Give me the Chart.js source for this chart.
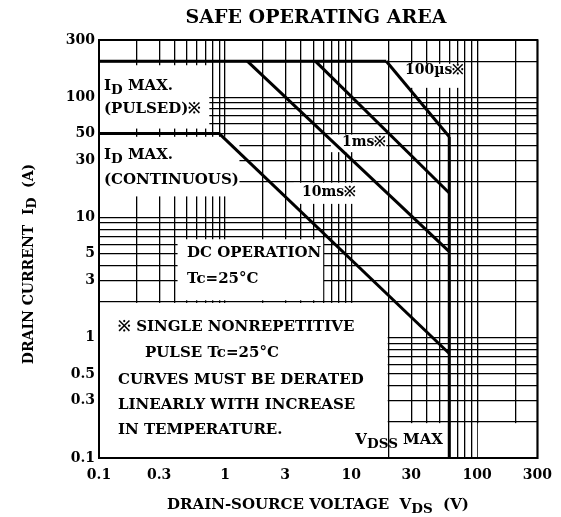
<!DOCTYPE html>
<html>
<head>
<meta charset="utf-8">
<script src="https://cdn.jsdelivr.net/npm/chart.js@4.4.0/dist/chart.umd.min.js"></script>
<style>
  html, body { margin: 0; padding: 0; background: #fff; }
</style>
</head>
<body>
<canvas id="soa" width="561" height="517"></canvas>
<script>
// tick labels shown on the axes
const xTickLabels = [0.1, 0.3, 1, 3, 10, 30, 100, 300];
const yTickLabels = [0.1, 0.3, 0.5, 1, 3, 5, 10, 30, 50, 100, 300];

// grid lines (1..9 per decade)
const xGrid = [0.1, 0.2, 0.3, 0.4, 0.5, 0.6, 0.7, 0.8, 0.9, 1, 2, 3, 4, 5, 6, 7, 8, 9,
  10, 20, 30, 40, 50, 60, 70, 80, 90, 100, 200, 300];
const yGrid = xGrid;

// limit lines, [V, A]
const pulsedMax = [[0.1, 200], [19, 200]];
const contMax = [[0.1, 50], [0.9, 50]];
const dcLine = [[0.9, 50], [60, 0.74]];
const ms10 = [[1.5, 200], [60, 5.2]];
const ms1 = [[5.2, 200], [60, 16]];
const us100 = [[19, 200], [60, 47]];
const vdssMax = [[60, 47], [60, 0.1]];

const FONT = '"DejaVu Serif", "Liberation Serif", serif';

function lineSet(pts) {
  return {
    data: pts.map(p => ({ x: p[0], y: p[1] })),
    borderColor: '#000',
    borderWidth: 3,
    pointRadius: 0,
    fill: false,
    tension: 0
  };
}

// white areas behind the printed notes, in data units [x0, x1, y0, y1]
const masks = [
  [0.1, 0.75, 55, 185],
  [0.1, 1.3, 15, 47],
  [0.42, 6.0, 2.05, 6.6],
  [0.1, 19.5, 0.1, 1.95],
  [20.5, 59, 0.1, 0.195],
  [101, 300, 0.1, 0.195],
  [25, 75, 120, 190],
  [6.9, 19, 35, 49],
  [3.5, 11, 13, 19.5]
];

function rich(ctx, parts, x, y, size, align) {
  let w = 0;
  parts.forEach(p => {
    ctx.font = 'bold ' + (p.sub ? size * 0.9 : size) + 'px ' + FONT;
    w += ctx.measureText(p.t).width;
  });
  let cx = align === 'center' ? x - w / 2 : (align === 'right' ? x - w : x);
  ctx.textAlign = 'left';
  ctx.textBaseline = 'middle';
  parts.forEach(p => {
    ctx.font = 'bold ' + (p.sub ? size * 0.9 : size) + 'px ' + FONT;
    ctx.fillText(p.t, cx, y + (p.sub ? size * 0.3 : 0));
    cx += ctx.measureText(p.t).width;
  });
}

const notes = [
  { parts: [{ t: 'SAFE OPERATING AREA' }], x: 316, y: 18, size: 19, align: 'center' },
  { parts: [{ t: 'I' }, { t: 'D', sub: true }, { t: ' MAX.' }], x: 104, y: 86, size: 15 },
  { parts: [{ t: '(PULSED)※' }], x: 104, y: 109, size: 15 },
  { parts: [{ t: 'I' }, { t: 'D', sub: true }, { t: ' MAX.' }], x: 104, y: 155, size: 15 },
  { parts: [{ t: '(CONTINUOUS)' }], x: 104, y: 180, size: 15 },
  { parts: [{ t: 'DC OPERATION' }], x: 187, y: 253, size: 15 },
  { parts: [{ t: 'Tc=25°C' }], x: 187, y: 279, size: 15 },
  { parts: [{ t: '※ SINGLE NONREPETITIVE' }], x: 118, y: 327, size: 15 },
  { parts: [{ t: 'PULSE Tc=25°C' }], x: 145, y: 353, size: 15 },
  { parts: [{ t: 'CURVES MUST BE DERATED' }], x: 118, y: 380, size: 15 },
  { parts: [{ t: 'LINEARLY WITH INCREASE' }], x: 118, y: 405, size: 15 },
  { parts: [{ t: 'IN TEMPERATURE.' }], x: 118, y: 430, size: 15 },
  { parts: [{ t: 'V' }, { t: 'DSS', sub: true }, { t: ' MAX' }], x: 443, y: 440, size: 15, align: 'right' },
  { parts: [{ t: '100µs※' }], x: 405, y: 70, size: 14 },
  { parts: [{ t: '1ms※' }], x: 342, y: 142, size: 14 },
  { parts: [{ t: '10ms※' }], x: 302, y: 192, size: 14 },
  { parts: [{ t: 'DRAIN-SOURCE VOLTAGE  V' }, { t: 'DS', sub: true }, { t: '  (V)' }], x: 318, y: 505, size: 15, align: 'center' }
];

const soaPlugin = {
  id: 'soa',
  beforeDatasetsDraw(chart) {
    const ctx = chart.ctx, sx = chart.scales.x, sy = chart.scales.y;
    ctx.save();
    ctx.fillStyle = '#fff';
    masks.forEach(m => {
      const x0 = sx.getPixelForValue(m[0]), x1 = sx.getPixelForValue(m[1]);
      const y0 = sy.getPixelForValue(m[2]), y1 = sy.getPixelForValue(m[3]);
      ctx.fillRect(x0, y1, x1 - x0, y0 - y1);
    });
    ctx.restore();
  },
  afterDatasetsDraw(chart) {
    const ctx = chart.ctx, a = chart.chartArea;
    ctx.save();
    ctx.strokeStyle = '#000';
    ctx.lineWidth = 2;
    ctx.strokeRect(a.left, a.top, a.right - a.left, a.bottom - a.top);
    ctx.restore();
  },
  afterDraw(chart) {
    const ctx = chart.ctx;
    ctx.save();
    ctx.fillStyle = '#000';
    notes.forEach(n => rich(ctx, n.parts, n.x, n.y, n.size, n.align));
    // y axis title, rotated
    ctx.translate(29, 264);
    ctx.rotate(-Math.PI / 2);
    rich(ctx, [{ t: 'DRAIN CURRENT  I' }, { t: 'D', sub: true }, { t: '  (A)' }], 0, 0, 14, 'center');
    ctx.restore();
  }
};

new Chart(document.getElementById('soa'), {
  type: 'line',
  data: {
    datasets: [pulsedMax, contMax, dcLine, ms10, ms1, us100, vdssMax].map(lineSet)
  },
  options: {
    responsive: false,
    animation: false,
    layout: { padding: { top: 40, right: 21, left: 0, bottom: 0 } },
    plugins: { legend: { display: false }, tooltip: { enabled: false } },
    scales: {
      x: {
        type: 'logarithmic',
        min: 0.1,
        max: 300,
        afterBuildTicks: s => { s.ticks = xGrid.map(v => ({ value: v })); },
        afterFit: s => { s.height = 59; },
        grid: { color: '#000', lineWidth: 1.3, drawTicks: false },
        border: { color: '#000', width: 2 },
        ticks: {
          autoSkip: false,
          maxRotation: 0,
          padding: 9,
          color: '#000',
          font: { family: FONT, weight: 'bold', size: 14 },
          callback: v => xTickLabels.includes(v) ? String(v) : ''
        }
      },
      y: {
        type: 'logarithmic',
        min: 0.1,
        max: 300,
        afterBuildTicks: s => { s.ticks = yGrid.map(v => ({ value: v })); },
        afterFit: s => { s.width = 99; },
        grid: { color: '#000', lineWidth: 1.3, drawTicks: false },
        border: { color: '#000', width: 2 },
        ticks: {
          autoSkip: false,
          padding: 4,
          color: '#000',
          font: { family: FONT, weight: 'bold', size: 14 },
          callback: v => yTickLabels.includes(v) ? String(v) : ''
        }
      }
    }
  },
  plugins: [soaPlugin]
});
</script>
</body>
</html>
